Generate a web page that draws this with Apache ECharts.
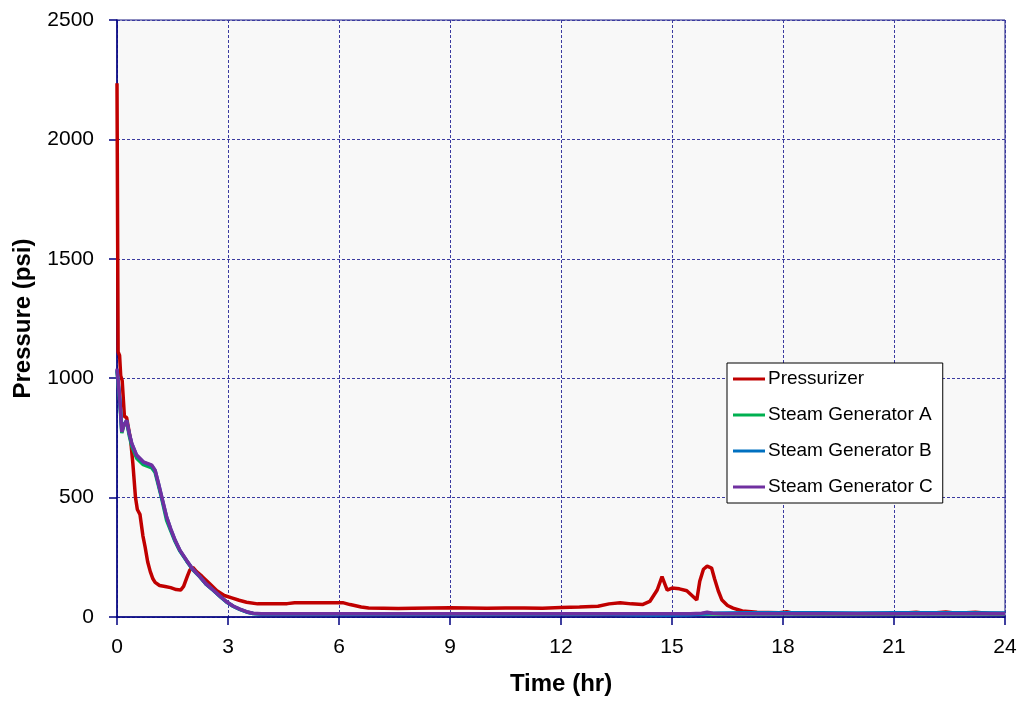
<!DOCTYPE html>
<html>
<head>
<meta charset="utf-8">
<script src="https://cdn.jsdelivr.net/npm/echarts@6/dist/echarts.min.js"></script>
<style>
html,body{margin:0;padding:0;background:#fff;}
#c{width:1023px;height:704px;}
</style>
</head>
<body>
<div id="c"></div>
<script>
const seriesNames = ['Pressurizer', 'Steam Generator A', 'Steam Generator B', 'Steam Generator C'];
const xTicks = [0, 3, 6, 9, 12, 15, 18, 21, 24];
const yTicks = [0, 500, 1000, 1500, 2000, 2500];

const pzrTime = [0,0.03,0.07,0.1,0.14,0.2,0.26,0.3,0.37,0.43,0.5,0.55,0.62,0.7,0.76,0.83,0.9,0.97,1.03,1.15,1.3,1.45,1.6,1.72,1.8,1.9,1.97,2.05,2.15,2.3,2.5,2.7,2.9,3.1,3.3,3.5,3.8,4.2,4.6,4.8,5.5,6.1,6.3,6.6,6.8,7.2,7.6,8,8.5,9,9.5,10,10.5,11,11.5,12,12.5,13,13.3,13.6,13.9,14.2,14.4,14.6,14.73,14.87,15,15.2,15.4,15.67,15.75,15.85,15.95,16.07,16.15,16.25,16.35,16.5,16.65,16.9,17.3,17.9,18.1,18.3,21,21.6,21.9,22.4,22.7,23.2,23.6,24];
const pzrPsi  = [2235,1110,1095,1010,990,840,835,800,740,640,500,450,430,340,293,230,190,160,145,132,128,123,115,113,128,170,197,208,190,170,140,110,90,80,70,62,55,55,56,60,60,60,52,42,38,37,36,37,38,39,38,37,38,38,37,40,42,45,55,60,55,52,65,113,169,113,121,118,110,71,150,200,213,205,160,110,71,48,37,25,20,18,22,15,14,20,15,21,16,20,15,15];

const sgTime = [0,0.04,0.08,0.13,0.18,0.26,0.33,0.4,0.53,0.71,0.94,1.03,1.12,1.21,1.34,1.45,1.57,1.7,1.88,2.05,2.24,2.4,2.6,2.8,2.96,3.15,3.32,3.5,3.68,3.9,5,7,9,11,13,14,14.5,15,15.5,15.8,15.95,16.1,16.4,17,18,19,20,21,22,23,24];
const sgA = [1030,1025,890,770,800,820,760,715,665,638,624,605,550,495,405,362,316,276,235,198,168,139,112,84,63,44,32,21,15,13,13,13,13,13,13,13,13,13,13,13,14,13,13,13,13,13,13,13,13,13,13];
const sgB = [1035,1030,905,780,805,822,768,725,676,648,634,613,558,500,418,368,320,278,236,199,168,139,112,84,63,44,32,21,15,13,13,13,13,13,13,9,8,8,9,13,15,16,17,18,18,18,17,18,18,18,17];
const sgC = [1040,1033,900,775,800,824,770,727,678,650,636,615,560,503,420,370,322,280,238,200,169,140,113,85,64,45,33,22,16,14,14,14,14,14,14,14,14,14,14,16,20,16,14,14,14,14,14,14,14,14,14];

const colors = ['#c00000', '#00b050', '#0070c0', '#7030a0'];

function pairs(t, v) { return t.map((x, i) => [x, v[i]]); }
const dataSets = [pairs(pzrTime, pzrPsi), pairs(sgTime, sgA), pairs(sgTime, sgB), pairs(sgTime, sgC)];

const chart = echarts.init(document.getElementById('c'), null, {renderer: 'canvas'});
const font = 'Liberation Sans, Arial, sans-serif';
chart.setOption({
  animation: false,
  color: colors,
  grid: {
    left: 117, right: 18, top: 20, bottom: 87,
    show: true, backgroundColor: '#f8f8f8', borderColor: '#1a1a80', borderWidth: 1
  },
  legend: {
    orient: 'vertical',
    left: 727, top: 363,
    backgroundColor: '#ffffff',
    borderColor: '#000000', borderWidth: 1,
    padding: [5, 10, 5, 6],
    icon: 'rect',
    itemWidth: 32, itemHeight: 3, itemGap: 14,
    textStyle: {fontFamily: font, fontSize: 19, color: '#000', padding: [0, 0, 0, -2], lineHeight: 22},
    data: seriesNames.map((n, i) => ({name: n, itemStyle: {color: colors[i]}}))
  },
  xAxis: {
    type: 'value', min: 0, max: 24, interval: 3,
    name: 'Time (hr)', nameLocation: 'middle', nameGap: 55,
    nameTextStyle: {fontFamily: font, fontSize: 24, fontWeight: 'bold', color: '#000'},
    axisLine: {show: true, onZero: false, lineStyle: {color: '#000080', width: 1.5}},
    axisTick: {show: true, inside: false, length: 8, lineStyle: {color: '#000080', width: 1.5}},
    axisLabel: {fontFamily: font, fontSize: 21, color: '#000', margin: 20,
      formatter: v => xTicks.includes(v) ? String(v) : ''},
    splitLine: {show: true, lineStyle: {color: '#3a3aa0', type: [3, 2], width: 1}}
  },
  yAxis: {
    type: 'value', min: 0, max: 2500, interval: 500,
    name: 'Pressure (psi)', nameLocation: 'middle', nameGap: 82, nameRotate: 90,
    nameTextStyle: {fontFamily: font, fontSize: 24, fontWeight: 'bold', color: '#000'},
    axisLine: {show: true, lineStyle: {color: '#000080', width: 1.5}},
    axisTick: {show: true, inside: false, length: 8, lineStyle: {color: '#000080', width: 1.5}},
    axisLabel: {fontFamily: font, fontSize: 21, color: '#000', margin: 23,
      formatter: v => yTicks.includes(v) ? String(v) : ''},
    splitLine: {show: true, lineStyle: {color: '#3a3aa0', type: [3, 2], width: 1}}
  },
  series: seriesNames.map((n, i) => ({
    name: n, type: 'line', data: dataSets[i],
    symbol: 'none', showSymbol: false,
    lineStyle: {width: 3.5, color: colors[i]},
    itemStyle: {color: colors[i]},
    z: 2 + i
  }))
});
</script>
</body>
</html>
